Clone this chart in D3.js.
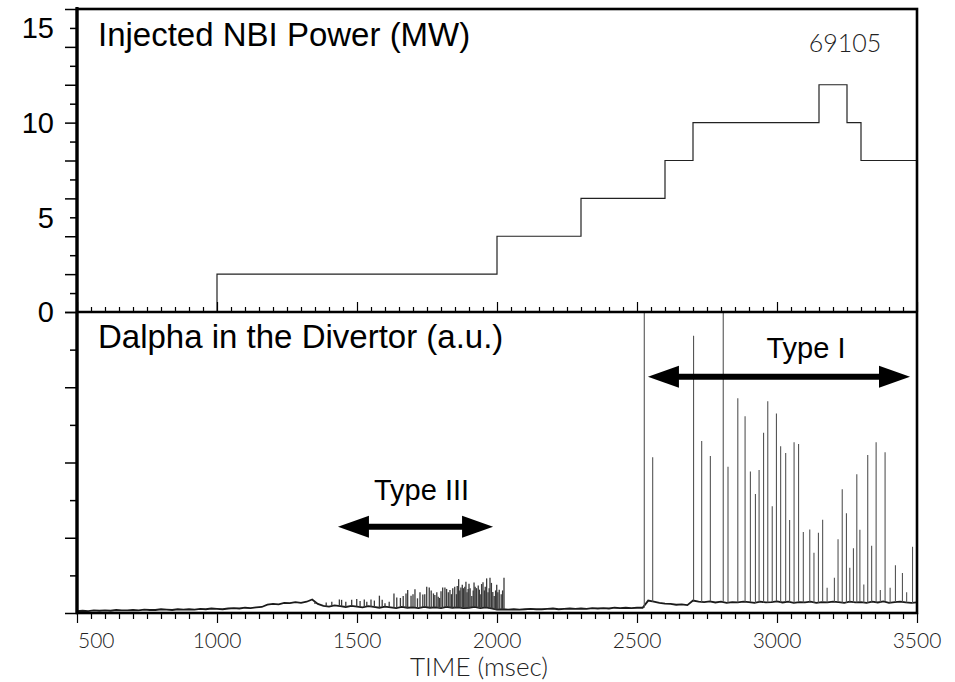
<!DOCTYPE html>
<html>
<head>
<meta charset="utf-8">
<script src="https://cdn.jsdelivr.net/npm/d3@7"></script>
<style>
  body { margin: 0; background: #fff; }
  svg { display: block; background: #fff; }
  .arial { font-family: "Liberation Sans", Arial, sans-serif; fill: #000; }
  .thin { font-family: Lato, "Noto Sans", sans-serif; font-weight: 300; fill: #222; }
</style>
</head>
<body>
<svg id="chart" width="955" height="682"></svg>
<script>
// Injected NBI power, step function (time in ms, power in MW)
const nbiTime  = [1000, 1000, 2000, 2300, 2600, 2700, 3150, 3250, 3300, 3500];
const nbiPower = [0, 2, 4, 6, 8, 10, 12, 10, 8, 8];

// Dalpha baseline level (a.u.), one sample every 20 ms from 500 to 3500
const baseStart = 500;
const baseStep = 20;
const dalphaBase = [
  .05,.06,.05,.07,.06,.07,.06,.08,.07,.07,
  .08,.07,.09,.08,.08,.10,.09,.08,.10,.09,
  .10,.09,.11,.10,.12,.11,.10,.12,.13,.12,
  .14,.13,.15,.16,.22,.24,.23,.27,.26,.29,
  .27,.30,.36,.24,.19,.17,.20,.18,.16,.19,
  .17,.15,.18,.16,.14,.17,.15,.13,.16,.14,
  .15,.13,.16,.14,.15,.13,.16,.14,.15,.13,
  .14,.16,.13,.15,.12,.09,.10,.09,.10,.09,
  .10,.11,.10,.10,.11,.12,.10,.11,.12,.11,
  .12,.11,.13,.12,.13,.12,.14,.13,.14,.13,
  .14,.14,.33,.30,.27,.25,.24,.22,.23,.21,
  .33,.30,.29,.31,.28,.30,.27,.29,.28,.30,
  .29,.27,.30,.28,.29,.31,.28,.30,.27,.29,
  .28,.30,.27,.29,.28,.30,.29,.27,.30,.28,
  .29,.27,.30,.28,.31,.27,.29,.30,.28,.27,
  .28
];

// Type III ELM spikes: time (ms) and peak (a.u.)
const type3Time = [1350, 1390, 1410, 1437, 1445, 1460, 1481, 1499, 1511, 1526, 1535, 1550, 1562, 1580,
  1590, 1600, 1615, 1632, 1642, 1655, 1665, 1675, 1681, 1693, 1700, 1707, 1716, 1725, 1735, 1742,
  1749, 1758, 1765, 1773, 1778, 1785, 1790, 1795, 1800, 1806, 1814, 1820, 1826, 1832, 1837, 1842,
  1849, 1855, 1858, 1863, 1867, 1871, 1876, 1880, 1885, 1889, 1893, 1897, 1900, 1904, 1910, 1915,
  1918, 1922, 1927, 1933, 1937, 1940, 1945, 1950, 1955, 1958, 1963, 1968, 1972, 1975, 1980, 1985,
  1990, 1995, 1999, 2003, 2008, 2015, 2020, 2025];
const type3Peak = [.30, .28, .30, .36, .35, .30, .35, .37, .32, .36, .30, .36, .33, .46,
  .35, .26, .30, .52, .41, .40, .45, .52, .61, .46, .50, .63, .39, .55, .49, .50,
  .70, .68, .60, .52, .48, .55, .43, .40, .58, .68, .68, .64, .55, .61, .50, .66,
  .70, .50, .72, .90, .60, .68, .75, .66, .70, .83, .55, .64, .78, .66, .45, .60,
  .81, .70, .66, .73, .62, .50, .77, .82, .60, .70, .92, .55, .66, .94, .80, .56,
  .45, .60, .75, .55, .62, .50, .60, .94];

// Type I ELM spikes: time (ms) and peak (a.u.); values above 8 run off the panel
const type1Time = [2526, 2556, 2702, 2731, 2762, 2808, 2825, 2860, 2886, 2905, 2923, 2936, 2952, 2967,
  2983, 2998, 3013, 3031, 3045, 3061, 3077, 3094, 3117, 3132, 3148, 3163, 3179, 3205, 3218, 3233,
  3248, 3260, 3273, 3285, 3296, 3310, 3324, 3338, 3354, 3369, 3386, 3404, 3423, 3448, 3463, 3484];
const type1Peak = [9.5, 4.14, 7.37, 4.57, 4.17, 9.5, 3.89, 5.71, 5.23, 3.76, 3.16, 3.80, 4.79, 5.63,
  2.84, 5.30, 4.43, 4.25, 2.47, 4.54, 4.49, 2.15, 2.22, 1.60, 2.13, 2.48, 0.67, 0.94, 1.96, 3.29,
  2.65, 1.20, 1.72, 3.69, 2.21, 0.76, 4.20, 1.79, 4.54, 0.61, 4.27, 0.67, 1.27, 1.06, 0.55, 1.76];

const xTickLabels = [500, 1000, 1500, 2000, 2500, 3000, 3500];
const powerTickLabels = [0, 5, 10, 15];

const svg = d3.select('#chart');

// layout
const pLeft = 77, pRight = 917, pTop = 9, pMid = 312, pBottom = 613;

const x = d3.scaleLinear().domain([500, 3500]).range([pLeft, pRight]);
const yPower = d3.scaleLinear().domain([0, 16]).range([pMid, pTop]);
const yDa = d3.scaleLinear().domain([0, 8]).range([pBottom, pMid]);

svg.append('clipPath').attr('id', 'clipDa')
  .append('rect').attr('x', pLeft).attr('y', pMid).attr('width', pRight - pLeft).attr('height', pBottom - pMid);

// --- top panel: NBI power
const nbiLine = d3.line()
  .x((d, i) => x(nbiTime[i]))
  .y(d => yPower(d))
  .curve(d3.curveStepAfter);

svg.append('path')
  .datum(nbiPower)
  .attr('d', nbiLine)
  .attr('fill', 'none')
  .attr('stroke', '#222')
  .attr('stroke-width', 1.2);

// --- bottom panel: Dalpha
const gDa = svg.append('g').attr('clip-path', 'url(#clipDa)');
const baseAt = t => dalphaBase[Math.round((t - baseStart) / baseStep)];

gDa.append('path')
  .datum(dalphaBase)
  .attr('d', d3.line()
    .x((d, i) => x(baseStart + i * baseStep))
    .y(d => yDa(d)))
  .attr('fill', 'none')
  .attr('stroke', '#1a1a1a')
  .attr('stroke-width', 1.8);

function drawSpikes(times, peaks, color, width) {
  gDa.append('g')
    .selectAll('line')
    .data(times)
    .join('line')
    .attr('x1', d => x(d))
    .attr('x2', d => x(d))
    .attr('y1', d => yDa(baseAt(d)))
    .attr('y2', (d, i) => yDa(peaks[i]))
    .attr('stroke', color)
    .attr('stroke-width', width);
}
drawSpikes(type3Time, type3Peak, '#3a3a3a', 1.3);
drawSpikes(type1Time, type1Peak, '#555', 1.1);

// --- frame
svg.append('rect')
  .attr('x', pLeft).attr('y', pTop)
  .attr('width', pRight - pLeft).attr('height', pBottom - pTop)
  .attr('fill', 'none').attr('stroke', '#000').attr('stroke-width', 2.6);
svg.append('line')
  .attr('x1', pLeft).attr('x2', pRight).attr('y1', pMid).attr('y2', pMid)
  .attr('stroke', '#000').attr('stroke-width', 2.6);
svg.append('line')
  .attr('x1', pLeft).attr('x2', pLeft).attr('y1', pTop - 2).attr('y2', pBottom)
  .attr('stroke', '#000').attr('stroke-width', 3.2);

// --- left ticks
const powerAxis = d3.axisLeft(yPower)
  .tickValues(d3.range(0, 17, 1))
  .tickSize(7)
  .tickFormat('');
const gPow = svg.append('g').attr('transform', `translate(${pLeft},0)`).call(powerAxis);
const daAxis = d3.axisLeft(yDa)
  .tickValues(d3.range(0, 9, 1))
  .tickSize(7)
  .tickFormat('');
const gDaAx = svg.append('g').attr('transform', `translate(${pLeft},0)`).call(daAxis);
[gPow, gDaAx].forEach(g => {
  g.select('.domain').remove();
  g.selectAll('.tick line')
    .attr('x2', d => d % 2 === 0 ? -12 : -7)
    .attr('stroke', '#000')
    .attr('stroke-width', 1.5);
});

svg.append('g')
  .selectAll('text')
  .data(powerTickLabels)
  .join('text')
  .attr('class', 'arial')
  .attr('x', 54)
  .attr('y', d => yPower(d))
  .attr('dy', '0.36em')
  .attr('text-anchor', 'end')
  .attr('font-size', 29)
  .text(d => d);

// --- x ticks: upward into the top panel, downward below the bottom panel
const xMinor = d3.range(500, 3501, 50);
const gMid = svg.append('g').attr('transform', `translate(0,${pMid})`)
  .call(d3.axisTop(x).tickValues(xMinor).tickSize(5).tickFormat(''));
const gBot = svg.append('g').attr('transform', `translate(0,${pBottom})`)
  .call(d3.axisBottom(x).tickValues(xMinor).tickSize(6).tickFormat(''));
gMid.select('.domain').remove();
gBot.select('.domain').remove();
gMid.selectAll('.tick line')
  .attr('y2', d => d % 500 === 0 ? -10 : -5)
  .attr('stroke', '#000').attr('stroke-width', 1.2);
gBot.selectAll('.tick line')
  .attr('y2', d => d % 500 === 0 ? 10 : 6)
  .attr('stroke', '#000').attr('stroke-width', 1.2);

svg.append('g')
  .selectAll('text')
  .data(xTickLabels)
  .join('text')
  .attr('class', 'thin')
  .attr('x', d => d === 500 ? x(d) + 1 : x(d))
  .attr('y', 648)
  .attr('text-anchor', d => d === 500 ? 'start' : 'middle')
  .attr('font-size', 21)
  .text(d => d);

svg.append('text')
  .attr('class', 'thin')
  .attr('x', 479).attr('y', 676)
  .attr('text-anchor', 'middle')
  .attr('font-size', 26)
  .text('TIME (msec)');

// --- panel titles and shot number
svg.append('text').attr('class', 'arial')
  .attr('x', 98).attr('y', 46).attr('font-size', 33)
  .text('Injected NBI Power (MW)');
svg.append('text').attr('class', 'arial')
  .attr('x', 98).attr('y', 348).attr('font-size', 33)
  .text('Dalpha in the Divertor (a.u.)');
svg.append('text').attr('class', 'thin')
  .attr('x', 845).attr('y', 52).attr('text-anchor', 'middle').attr('font-size', 25)
  .text('69105');

// --- ELM type arrows
const arrowLabels = ['Type III', 'Type I'];
const arrowFrom = [1432, 2539];
const arrowTo = [1986, 3475];
const arrowLevel = [2.29, 6.28];
const labelLevel = [3.0, 6.78];

const headLen = 31, headHalf = 11;
arrowLabels.forEach((label, i) => {
  const x0 = x(arrowFrom[i]), x1 = x(arrowTo[i]), yy = yDa(arrowLevel[i]);
  const g = svg.append('g');
  g.append('line')
    .attr('x1', x0 + headLen - 2).attr('x2', x1 - headLen + 2)
    .attr('y1', yy).attr('y2', yy)
    .attr('stroke', '#000').attr('stroke-width', 6);
  g.append('path')
    .attr('d', `M${x0},${yy} L${x0 + headLen},${yy - headHalf} L${x0 + headLen},${yy + headHalf} Z`)
    .attr('fill', '#000');
  g.append('path')
    .attr('d', `M${x1},${yy} L${x1 - headLen},${yy - headHalf} L${x1 - headLen},${yy + headHalf} Z`)
    .attr('fill', '#000');
  g.append('text').attr('class', 'arial')
    .attr('x', (x0 + x1) / 2 + (i === 1 ? 27 : 6))
    .attr('y', yDa(labelLevel[i]))
    .attr('text-anchor', 'middle')
    .attr('font-size', 29)
    .text(label);
});
</script>
</body>
</html>
